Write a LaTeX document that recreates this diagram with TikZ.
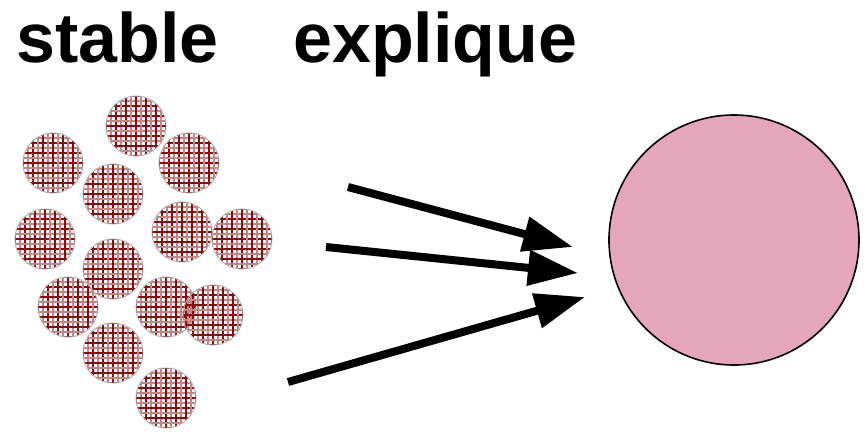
\documentclass[tikz,border=0pt]{standalone}
\usepackage{fontspec}
\setmainfont{Liberation Sans}
\usetikzlibrary{arrows.meta, calc}
\definecolor{gridred}{RGB}{139,10,10}
\definecolor{blobpink}{RGB}{229,166,187}
\begin{document}
\begin{tikzpicture}[
            x=1pt, y=-1pt,
            title/.style = {anchor=base west, inner sep=0pt, font=\fontsize{70}{80}\selectfont\bfseries},
            disc/.style = {circle, draw=gray!60, line width=0.9pt, minimum size=60pt, inner sep=0pt,
                path picture={
                    \foreach \k in {-6,...,6} {
                        \pgfmathsetmacro{\tone}{isodd(\k) ? 50 : 100}
                        \draw[gridred!\tone, line width=1.2pt]
                            ($(path picture bounding box.center)+(\k*5,-32)$) -- ++(0,64)
                            ($(path picture bounding box.center)+(-32,\k*5)$) -- ++(64,0);
                    }
                }},
            blob/.style = {circle, draw, line width=1.6pt, fill=blobpink, minimum size=250pt, inner sep=0pt},
            bigarrow/.style = {line width=8pt, -{Triangle[length=50pt, width=34pt]}}
        ]
        \useasboundingbox (0,0) rectangle (867,436);
        % titles
        \node[title] (stable) at (16,63) {stable};
        \node[title] (explique) at (293,63) {explique};
        % the small discs
        \foreach \name/\px/\py in {d1/136/126, d2/53/163, d3/189/163, d4/113/194, d5/45/239,
                d6/182/232, d7/242/239, d8/113/269, d9/68/307, d10/166/307, d11/213/315,
                d12/113/353, d13/166/398}
            \node[disc] (\name) at (\px,\py) {};
        % the big one
        \node[blob] (whole) at (734,240) {};
        % arrows
        \coordinate (from1) at (348,187);
        \coordinate (to1) at (573,247);
        \coordinate (from2) at (326,247);
        \coordinate (to2) at (578,273);
        \coordinate (from3) at (288,382);
        \coordinate (to3) at (585,297);
        \draw[bigarrow] (from1) -- (to1);
        \draw[bigarrow] (from2) -- (to2);
        \draw[bigarrow] (from3) -- (to3);
    \end{tikzpicture}
\end{document}
